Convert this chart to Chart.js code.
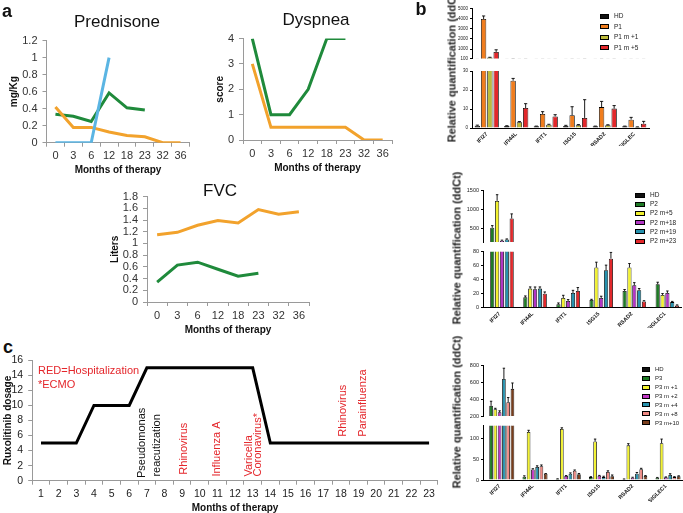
<!DOCTYPE html>
<html><head><meta charset="utf-8">
<script src="https://cdn.jsdelivr.net/npm/chart.js@4.4.1/dist/chart.umd.min.js"></script>
<style>
html,body{margin:0;padding:0;background:#fff;width:683px;height:513px;overflow:hidden;}
#wrap{position:relative;width:683px;height:513px;overflow:hidden;font-family:'Liberation Sans',Arial,sans-serif;}
canvas{position:absolute;}
.t{position:absolute;white-space:nowrap;color:#111;line-height:1;}
</style></head><body><div id="wrap"></div>
<script>
// ---------- Panel a data ----------
const monthsA = ['0','3','6','12','18','23','32','36'];
const predOrange = [0.42,0.18,0.18,0.125,0.085,0.07,0,0];
const predGreen  = [0.335,0.31,0.25,0.585,0.41,0.385,null,null];
const predBlue   = [0,0,0,1.0,null,null,null,null];
const dysGreen   = [4,1,1,2,4,4,null,null];
const dysOrange  = [3,0.5,0.5,0.5,0.5,0.5,0,0];
const fvcOrange  = [1.15,1.19,1.31,1.39,1.35,1.58,1.50,1.54];
const fvcGreen   = [0.34,0.63,0.68,0.56,0.44,0.49,null,null];
const predTicks = [0,0.2,0.4,0.6,0.8,1,1.2];
const dysTicks  = [0,1,2,3,4];
const fvcTicks  = [0,0.2,0.4,0.6,0.8,1,1.2,1.4,1.6,1.8];

// ---------- Panel c data ----------
const monthsC = ['1','2','3','4','5','6','7','8','9','10','11','12','13','14','15','16','17','18','19','20','21','22','23'];
const ruxDose = [5,5,5,10,10,10,15,15,15,15,15,15,15,5,5,5,5,5,5,5,5,5,5];
const doseTicks = [0,2,4,6,8,10,12,14,16];
const eventLabels = ['Pseudomonas','reacutization','Rhinovirus','Influenza A','Varicella','Coronavirus*','Rhinovirus','Parainfluenza'];
const eventMonths = [6.73,7.58,9.1,11.0,12.8,13.3,18.1,19.25];
const eventHospital = [false,false,true,true,true,true,true,true];

// ---------- Panel b data ----------
const genesP1 = ['IFI27','IFI44L','IFIT1','ISG15','RSAD2','SIGLEC'];
const genes   = ['IFI27','IFI44L','IFIT1','ISG15','RSAD2','SIGLEC1'];

const p1Names = ['HD','P1','P1 m +1','P1 m +5'];
const p1HD   = [1.2,1.0,0.9,1.1,0.9,0.9];
const p1Base = [3950,24.9,7.4,6.7,11,4.4];
const p1M1   = [190,3.0,1.75,1.5,1.5,0.5];
const p1M5   = [730,10.5,6.1,5.3,10.2,2.3];
const p1HDErr   = [0.3,0.2,0.1,0.3,0.1,0.1];
const p1BaseErr = [300,1.2,1.2,4.5,3,1.2];
const p1M1Err   = [20,0.4,0.2,0.3,0.2,0.1];
const p1M5Err   = [210,2.3,0.9,9.6,1.6,1.2];
const p1TopTicks = [100,1000,2000,3000,4000,5000];
const p1BotTicks = [0,10,20,30];

const p2Names = ['HD','P2','P2 m+5','P2 m+18','P2 m+19','P2 m+23'];
const p2HD   = [1,1,1,1,1,1];
const p2Base = [524,14.8,4.8,11,24,33.5];
const p2M5   = [1232,27.3,13.9,57.4,57.4,18.2];
const p2M18  = [183,26.3,9.6,14,32,21];
const p2M19  = [215,27.3,21,53.6,25,8];
const p2M23  = [768,20.1,24,70,9,3];
const p2HDErr   = [0,0,0,0,0,0];
const p2BaseErr = [57,2,2,1,2,2.9];
const p2M5Err   = [163,2.4,3.8,7.6,5.7,2];
const p2M18Err  = [16,3.3,2,2.4,3.8,2.9];
const p2M19Err  = [16,2.4,3.8,7.2,2.4,1];
const p2M23Err  = [122,2.4,4.8,9,1,1];
const p2TopTicks = [500,1000,1500];
const p2BotTicks = [0,20,40,60,80];

const p3Names = ['HD','P3','P3 m +1','P3 m +2','P3 m +4','P3 m +8','P3 m+10'];
const p3HD   = [1,1,1,1,1,1];
const p3Base = [321,8,2.4,7,2,5.6];
const p3M1   = [281,115,122,92,83,88];
const p3M2   = [244,25,9.6,10,5.6,6.4];
const p3M4   = [641,31,15,7,15,12];
const p3M8   = [365,33,22,19,26,7];
const p3M10  = [524,15,13.6,9,9.6,9];
const p3HDErr   = [0,0,0,0,0,0];
const p3BaseErr = [55,2,0.5,1,0.5,0.5];
const p3M1Err   = [11,4,3,6,4,10];
const p3M2Err   = [18,2,1,1,1,1];
const p3M4Err   = [129,3,2,2,3,3];
const p3M8Err   = [55,3,2,3,2,1];
const p3M10Err  = [70,0.5,2,3,1,1];
const p3TopTicks = [200,400,600,800];
const p3BotTicks = [0,50,100];

// ---------- helpers ----------
const FONT = "'Liberation Sans', Arial, sans-serif";
Chart.defaults.font.family = FONT;
const wrap = document.getElementById('wrap');

function frame(pl, pt, pr, pb, yW, xH, padT, padR){
  const x0 = Math.floor(pl - yW), y0 = Math.floor(pt - padT);
  const x1 = Math.ceil(pr + padR), y1 = Math.ceil(pb + xH);
  return {x:x0, y:y0, w:x1-x0, h:y1-y0, yW:pl-x0, xH:y1-pb, padT:pt-y0, padR:x1-pr};
}
function addCanvas(f){
  const c = document.createElement('canvas');
  c.width = f.w; c.height = f.h;
  c.style.left = f.x+'px'; c.style.top = f.y+'px';
  c.style.width = f.w+'px'; c.style.height = f.h+'px';
  wrap.appendChild(c);
  return c;
}
function text(str, x, y, css, rotate){
  const d = document.createElement('div');
  d.className = 't';
  d.textContent = str;
  d.style.left = x+'px'; d.style.top = y+'px';
  Object.assign(d.style, css||{});
  d.style.transform = 'translate(-50%,-50%)' + (rotate ? ' rotate(-90deg)' : '');
  wrap.appendChild(d);
  return d;
}
function textL(str, x, y, css){
  const d = document.createElement('div');
  d.className = 't';
  d.textContent = str;
  d.style.left = x+'px'; d.style.top = y+'px';
  d.style.transform = 'translateY(-50%)';
  Object.assign(d.style, css||{});
  wrap.appendChild(d);
}
const fixTicks = arr => (s => { s.ticks = arr.map(v => ({value:v})); });
const numFmt = v => String(Math.round(v*100)/100);

// ---------- Panel a line charts ----------
const ORANGE = '#F2A22C', GREEN = '#1F8A3B', BLUE = '#5BB5E3';
function lineChart(g, datasets, ymax, ticks, ytitle){
  const f = frame(g.pl, g.pt, g.pr, g.pb, g.yW, g.xH, 9, 8);
  const c = addCanvas(f);
  return new Chart(c, {
    type:'line',
    data:{labels:monthsA, datasets},
    options:{
      responsive:false, animation:false, devicePixelRatio:1,
      layout:{padding:{top:f.padT, right:f.padR, left:0, bottom:0}},
      plugins:{legend:{display:false}, tooltip:{enabled:false}, title:{display:false}},
      elements:{point:{radius:0}, line:{borderWidth:3, tension:0, borderJoinStyle:'miter'}},
      scales:{
        x:{offset:true, grid:{offset:true, drawOnChartArea:false, tickLength:4, color:'#9a9a9a'},
           border:{color:'#9a9a9a'},
           ticks:{font:{size:11}, color:'#333', maxRotation:0, autoSkip:false, padding:3},
           title:{display:true, text:'Months of therapy', font:{size:10, weight:'bold'}, color:'#111', padding:{top:2,bottom:4}},
           afterFit:s=>{s.height = f.xH;}},
        y:{min:0, max:ymax, afterBuildTicks:fixTicks(ticks),
           grid:{drawOnChartArea:false, tickLength:4, color:'#9a9a9a'},
           border:{color:'#9a9a9a'},
           ticks:{font:{size:11}, color:'#333', padding:5, autoSkip:false, callback:numFmt},
           title:{display:true, text:ytitle, font:{size:10, weight:'bold'}, color:'#111', padding:{top:4,bottom:4}},
           afterFit:s=>{s.width = f.yW;}}
      }
    }
  });
}
const ds = (data,color)=>({data, borderColor:color, backgroundColor:color, fill:false});

lineChart({pl:46.5, pr:189.5, pt:38.3, pb:142.7, yW:42, xH:37},
  [ds(predBlue,BLUE), ds(predOrange,ORANGE), ds(predGreen,GREEN)], 1.2, predTicks, 'mg/Kg');
lineChart({pl:243, pr:392, pt:36.7, pb:140, yW:33, xH:38},
  [ds(dysOrange,ORANGE), ds(dysGreen,GREEN)], 4, dysTicks, 'score');
lineChart({pl:147, pr:309, pt:194, pb:302, yW:42, xH:38},
  [ds(fvcOrange,ORANGE), ds(fvcGreen,GREEN)], 1.8, fvcTicks, 'Liters');

text('Prednisone', 117, 21, {fontSize:'17px'});
text('Dyspnea', 316, 19, {fontSize:'17px'});
text('FVC', 220, 190, {fontSize:'17px'});
text('a', 7, 11, {fontSize:'18px', fontWeight:'bold'});
text('b', 421, 9, {fontSize:'18px', fontWeight:'bold'});
text('c', 8, 347, {fontSize:'18px', fontWeight:'bold'});

// ---------- Panel c ----------
const eventPlugin = {
  id:'events',
  afterDatasetsDraw(chart){
    const xs = chart.scales.x, ys = chart.scales.y, ctx = chart.ctx;
    const bases = [0.35,0.55,0.8,0.55,0.55,0.55,5.85,5.85];
    eventLabels.forEach((t,i)=>{
      ctx.save();
      ctx.font = '11px ' + FONT;
      ctx.textAlign = 'left'; ctx.textBaseline = 'middle';
      ctx.fillStyle = eventHospital[i] ? '#E4262B' : '#111';
      ctx.translate(xs.getPixelForValue(eventMonths[i]-1), ys.getPixelForValue(bases[i]));
      ctx.rotate(-Math.PI/2);
      ctx.fillText(t,0,0);
      ctx.restore();
    });
  }
};
(function(){
  const f = frame(32.2, 358.3, 437.9, 480.7, 30.2, 35.6, 9, 8);
  const c = addCanvas(f);
  new Chart(c, {
    type:'line',
    data:{labels:monthsC, datasets:[{data:ruxDose, borderColor:'#000', borderWidth:3, pointRadius:0, tension:0, fill:false}]},
    options:{
      responsive:false, animation:false, devicePixelRatio:1,
      layout:{padding:{top:f.padT, right:f.padR, left:0, bottom:0}},
      plugins:{legend:{display:false}, tooltip:{enabled:false}},
      scales:{
        x:{offset:true, grid:{offset:true, drawOnChartArea:false, tickLength:4, color:'#999'},
           border:{color:'#999'},
           ticks:{font:{size:10.5}, color:'#222', maxRotation:0, autoSkip:false, padding:3},
           title:{display:true, text:'Months of therapy', font:{size:10, weight:'bold'}, color:'#111', padding:{top:2,bottom:3}},
           afterFit:s=>{s.height = f.xH;}},
        y:{min:0, max:16, afterBuildTicks:fixTicks(doseTicks),
           grid:{drawOnChartArea:false, tickLength:4, color:'#999'},
           border:{color:'#999'},
           ticks:{font:{size:10.5}, color:'#222', padding:5, autoSkip:false, callback:numFmt},
           title:{display:true, text:'Ruxolitinib dosage', font:{size:10, weight:'bold'}, color:'#111', padding:{top:0,bottom:0}},
           afterFit:s=>{s.width = f.yW;}}
      }
    },
    plugins:[eventPlugin]
  });
})();
textL('RED=Hospitalization', 38, 370, {fontSize:'11px', color:'#E4262B'});
textL('*ECMO', 38, 384, {fontSize:'11px', color:'#E4262B'});

// ---------- Panel b bar charts ----------
const errPlugin = {
  id:'errbars',
  afterDatasetsDraw(chart){
    const ctx = chart.ctx, y = chart.scales.y, a = chart.chartArea;
    ctx.save();
    ctx.beginPath(); ctx.rect(a.left, a.top-0.5, a.right-a.left, a.bottom-a.top+0.5); ctx.clip();
    ctx.strokeStyle = '#000'; ctx.lineWidth = 0.9;
    chart.data.datasets.forEach((d,di)=>{
      const meta = chart.getDatasetMeta(di);
      meta.data.forEach((bar,i)=>{
        const e = d.errors[i]; if(!e) return;
        const v = d.data[i];
        const y0 = y.getPixelForValue(v), y1 = y.getPixelForValue(v+e);
        const hw = Math.max(1.2, bar.width*0.3);
        ctx.beginPath();
        ctx.moveTo(bar.x, y0); ctx.lineTo(bar.x, y1);
        ctx.moveTo(bar.x-hw, y1); ctx.lineTo(bar.x+hw, y1);
        ctx.stroke();
      });
    });
    ctx.restore();
  }
};
function barSeg(g, labels, names, colors, vals, errs, ymin, ymax, ticks, showX, catPct, barPct, tickFont){
  const xH = showX ? g.xH : 4;
  const f = frame(g.pl, g.pt, g.pr, g.pb, 22, xH, 5, 4);
  const c = addCanvas(f);
  const datasets = names.map((n,i)=>({label:n, data:vals[i], errors:errs[i], backgroundColor:colors[i],
    borderColor:'#000', borderWidth:0.8, categoryPercentage:catPct, barPercentage:barPct}));
  return new Chart(c, {
    type:'bar',
    data:{labels, datasets},
    options:{
      responsive:false, animation:false, devicePixelRatio:1,
      layout:{padding:{top:f.padT, right:f.padR, left:0, bottom: showX ? 0 : f.xH}},
      plugins:{legend:{display:false}, tooltip:{enabled:false}},
      scales:{
        x:{display:showX, offset:true, grid:{display:true, drawOnChartArea:false, drawTicks:false},
           border:{color:'#000', width:1},
           ticks:{font:{size:5.5, weight:'bold'}, color:'#111', minRotation:45, maxRotation:45, autoSkip:false, padding:3},
           afterFit:s=>{s.height = f.xH;}},
        y:{min:ymin, max:ymax, afterBuildTicks:fixTicks(ticks),
           grid:{drawOnChartArea:false, tickLength:2, color:'#000'},
           border:{color:'#000', width:1},
           ticks:{font:{size:tickFont}, color:'#222', padding:2, autoSkip:false, callback:numFmt},
           afterFit:s=>{s.width = f.yW;}}
      }
    },
    plugins:[errPlugin]
  });
}
function legendBox(x, y0, step, names, colors, bw, bh, fs){
  names.forEach((n,i)=>{
    const y = y0 + i*step;
    const b = document.createElement('div');
    b.style.cssText = `position:absolute;left:${x}px;top:${y-bh/2}px;width:${bw}px;height:${bh}px;background:${colors[i]};border:1px solid #000;box-sizing:border-box;`;
    wrap.appendChild(b);
    textL(n, x+bw+5, y, {fontSize:fs+'px', color:'#222'});
  });
}

// P1
const p1Colors = ['#111111','#F07D1E','#BDBB3C','#E2282B'];
const p1Vals = [p1HD,p1Base,p1M1,p1M5], p1Errs = [p1HDErr,p1BaseErr,p1M1Err,p1M5Err];
barSeg({pl:472, pr:649, pt:8.3, pb:62.7}, genesP1, p1Names, p1Colors, p1Vals, p1Errs, 100, 5000, p1TopTicks, false, 0.85, 0.85, 4.5);
barSeg({pl:472, pr:649, pt:71, pb:128, xH:18}, genesP1, p1Names, p1Colors, p1Vals, p1Errs, 0, 30, p1BotTicks, true, 0.85, 0.85, 4.5);
legendBox(600, 16, 10.6, p1Names, p1Colors, 9, 5, 6.5);
text('Relative quantification (ddCt)', 452, 66, {fontSize:'11px', fontWeight:'bold', color:'#222'}, true);

// P2
const p2Colors = ['#111111','#1E7A25','#F2F230','#B236C4','#2792AE','#E2282B'];
const p2Vals = [p2HD,p2Base,p2M5,p2M18,p2M19,p2M23], p2Errs = [p2HDErr,p2BaseErr,p2M5Err,p2M18Err,p2M19Err,p2M23Err];
barSeg({pl:483, pr:681.5, pt:190.7, pb:246.5}, genes, p2Names, p2Colors, p2Vals, p2Errs, 150, 1500, p2TopTicks, false, 0.88, 0.85, 5.5);
barSeg({pl:483, pr:681.5, pt:251.7, pb:307.7, xH:20}, genes, p2Names, p2Colors, p2Vals, p2Errs, 0, 80, p2BotTicks, true, 0.88, 0.85, 5.5);
legendBox(635, 195, 9.2, p2Names, p2Colors, 10, 5, 6.5);
text('Relative quantification (ddCt)', 457, 248, {fontSize:'11px', fontWeight:'bold', color:'#222'}, true);

// P3
const p3Colors = ['#111111','#1E7A25','#F2F230','#C038C4','#2792AE','#F08A84','#7A3E1C'];
const p3Vals = [p3HD,p3Base,p3M1,p3M2,p3M4,p3M8,p3M10], p3Errs = [p3HDErr,p3BaseErr,p3M1Err,p3M2Err,p3M4Err,p3M8Err,p3M10Err];
barSeg({pl:483, pr:682.5, pt:365.7, pb:420}, genes, p3Names, p3Colors, p3Vals, p3Errs, 200, 800, p3TopTicks, false, 0.9, 0.85, 5.5);
barSeg({pl:483, pr:682.5, pt:425.7, pb:480, xH:22}, genes, p3Names, p3Colors, p3Vals, p3Errs, 0, 130, p3BotTicks, true, 0.9, 0.85, 5.5);
legendBox(642, 369.3, 8.9, p3Names, p3Colors, 8, 5, 6);
text('Relative quantification (ddCt)', 457, 412, {fontSize:'11px', fontWeight:'bold', color:'#222'}, true);
</script></body></html>
